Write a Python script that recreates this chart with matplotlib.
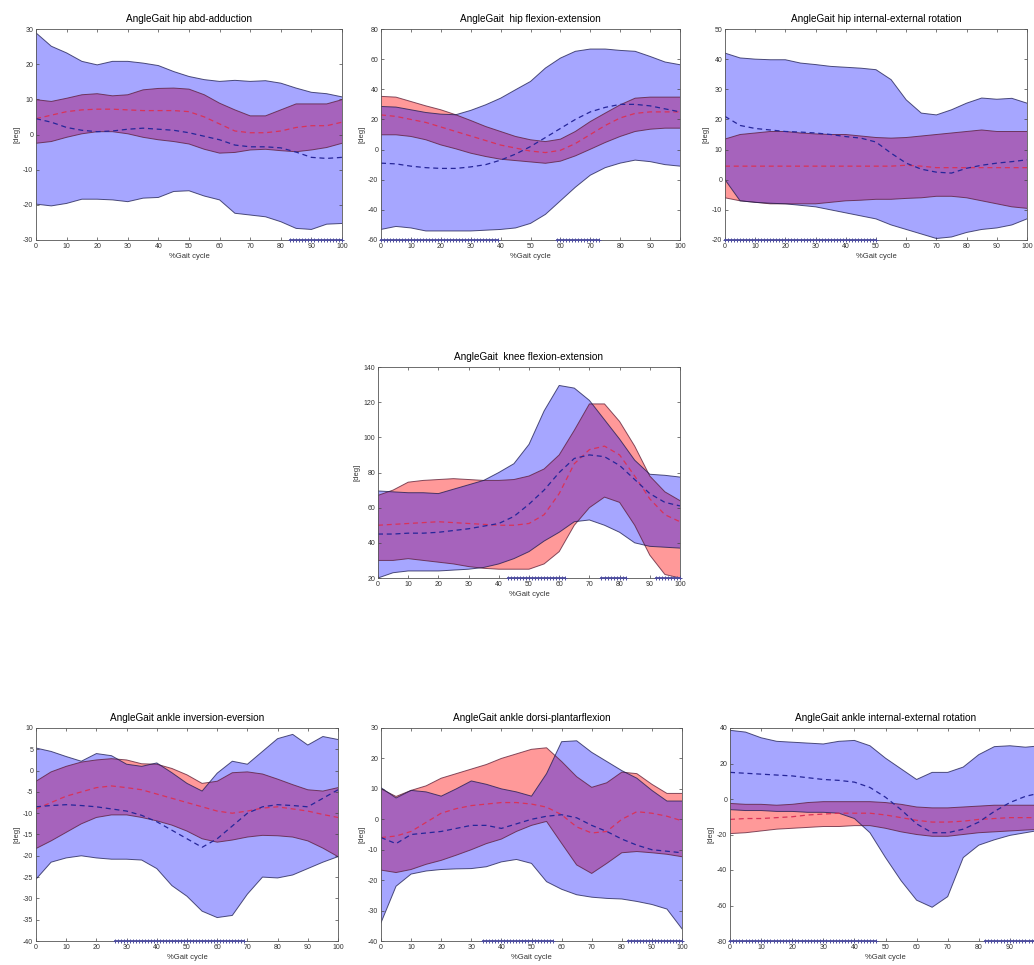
import numpy as np
import matplotlib
matplotlib.use("Agg")
import matplotlib.pyplot as plt

plt.rcParams['font.family'] = ['Liberation Sans', 'DejaVu Sans']
plt.rcParams['axes.unicode_minus'] = False

# % gait cycle sample positions
pct = [0, 5, 10, 15, 20, 25, 30, 35, 40, 45, 50, 55, 60, 65, 70, 75, 80, 85, 90, 95, 100]

# ---------------- hip abd-adduction ----------------
hab_red_mean = [4.5, 5.5, 6.5, 7.0, 7.2, 7.2, 7.0, 6.8, 6.8, 6.8, 6.5, 5.0, 3.0, 1.0, 0.5, 0.5, 1.0, 2.0, 2.5, 2.5, 3.5]
hab_red_up = [9.9, 9.4, 10.3, 11.3, 11.6, 11.0, 11.3, 12.7, 13.1, 13.2, 12.9, 11.3, 8.9, 7.0, 5.3, 5.3, 7.0, 8.7, 8.7, 8.7, 9.9]
hab_red_lo = [-2.5, -2.0, -0.8, 0.2, 0.8, 0.8, 0.2, -0.8, -1.5, -2.0, -2.7, -4.2, -5.3, -5.1, -4.4, -4.2, -4.6, -4.9, -4.4, -3.7, -2.5]
hab_blue_mean = [4.5, 3.5, 2.0, 1.2, 0.8, 1.0, 1.5, 1.8, 1.5, 1.2, 0.5, -0.5, -1.5, -3.0, -3.5, -3.5, -3.8, -5.0, -6.5, -6.8, -6.5]
hab_blue_up = [28.9, 25.1, 23.2, 20.8, 19.8, 20.8, 20.8, 20.3, 19.6, 17.9, 16.5, 15.6, 15.1, 15.4, 15.1, 15.3, 14.6, 13.2, 12.0, 11.6, 10.7]
hab_blue_lo = [-19.8, -20.3, -19.6, -18.4, -18.4, -18.6, -19.1, -18.1, -17.9, -16.2, -16.0, -17.5, -18.6, -22.4, -22.9, -23.4, -24.8, -26.7, -27.0, -25.5, -25.3]
hab_sig = [(83, 100)]

# ---------------- hip flexion-extension ----------------
hfe_red_mean = [23, 22, 20, 18, 15, 12, 9, 6, 3, 1, -1, -2, -0.5, 4, 10, 16, 21, 24, 25, 25, 25]
hfe_red_up = [35.3, 34.8, 31.9, 29.0, 26.4, 23.1, 19.3, 15.3, 12.0, 8.7, 6.5, 5.3, 6.9, 12.0, 18.6, 24.2, 29.7, 34.1, 34.8, 34.8, 34.8]
hfe_red_lo = [9.8, 9.8, 8.7, 6.5, 3.1, 0.5, -2.4, -4.6, -6.4, -7.3, -8.2, -9.1, -7.7, -4.2, 0.2, 4.7, 8.7, 12.0, 13.5, 14.2, 14.2]
hfe_blue_mean = [-9, -9.5, -11, -12, -12.5, -12.5, -11.5, -10, -7, -3, 2, 8, 14, 20, 25, 28, 30, 30, 29, 27, 25]
hfe_blue_up = [28.6, 28.2, 26.4, 24.6, 23.5, 23.1, 26.0, 29.7, 34.1, 39.7, 45.2, 54.1, 60.7, 65.2, 66.7, 66.7, 65.8, 65.2, 61.8, 58.1, 56.3]
hfe_blue_lo = [-53, -51, -52, -54, -54, -54, -54, -53.5, -53, -52, -49, -43, -34, -25, -17, -12, -9, -7, -8, -10, -11]
hfe_sig = [(0, 39), (59, 73)]

# ---------------- hip internal-external rotation ----------------
hie_red_mean = [4.5, 4.5, 4.5, 4.5, 4.5, 4.5, 4.5, 4.5, 4.5, 4.5, 4.5, 4.5, 4.8, 4.5, 4.0, 4.0, 4.0, 4.0, 4.0, 4.0, 4.0]
hie_red_up = [13.5, 15.0, 15.5, 16.0, 16.0, 15.5, 15.2, 15.0, 15.0, 14.5, 14.0, 13.8, 14.0, 14.5, 15.0, 15.5, 16.0, 16.5, 16.0, 16.0, 16.0]
hie_red_lo = [-6.0, -7.0, -7.5, -8.0, -8.0, -8.0, -8.0, -7.5, -7.0, -6.8, -6.5, -6.5, -6.2, -6.0, -5.5, -5.5, -6.0, -7.0, -8.0, -9.0, -9.5]
hie_blue_mean = [21, 18, 17, 16.5, 16, 15.8, 15.5, 15, 14.3, 13.8, 12.5, 8.8, 5.5, 3.5, 2.5, 2.2, 3.8, 4.8, 5.5, 6.0, 6.6]
hie_blue_up = [42.0, 40.4, 40.0, 39.8, 39.8, 38.7, 38.2, 37.6, 37.3, 37.0, 36.5, 33.2, 26.5, 22.1, 21.5, 23.2, 25.4, 27.1, 26.7, 27.0, 25.4]
hie_blue_lo = [0.0, -7.0, -7.5, -7.8, -8.0, -8.5, -9.0, -10.0, -11.0, -12.0, -13.0, -15.0, -16.5, -18.0, -19.5, -19.0, -17.5, -16.5, -16.0, -15.0, -13.0]
hie_sig = [(0, 50)]

# ---------------- knee flexion-extension ----------------
kfe_red_mean = [50, 50.5, 51, 51.5, 52, 51.5, 51, 50.5, 50, 50, 51, 56, 68, 85, 93, 95, 90, 78, 65, 56, 52]
kfe_red_up = [67, 70, 74.5, 75.5, 76, 76.5, 76, 75.5, 75.5, 76, 78, 82, 90, 104, 119, 119, 109, 95, 78, 69, 64]
kfe_red_lo = [30, 30, 31, 30, 29, 28, 26.5, 25.5, 25, 25, 25, 28, 35, 50, 60, 66, 63, 50, 33, 22, 20]
kfe_blue_mean = [45, 45, 45.5, 45.5, 46, 47, 48, 49.5, 51, 55, 62, 70, 80, 88, 90, 89, 84, 76, 68, 63, 61]
kfe_blue_up = [69.5, 69, 68.5, 68.5, 68, 70.5, 73, 75.5, 80, 85, 96, 115, 129.5, 128, 121, 110, 99, 87, 79, 78.4, 77.4]
kfe_blue_lo = [20, 23, 24, 24, 24, 24.5, 25, 26, 28, 31, 35, 41, 46, 52, 53, 50, 46, 40, 38, 37.5, 37]
kfe_sig = [(43, 62), (74, 82), (92, 100)]

# ---------------- ankle inversion-eversion ----------------
aie_red_mean = [-9, -7.5, -6, -5, -4, -3.6, -4, -4.5, -5.5, -6.5, -7.5, -8.5, -9.5, -10, -9.5, -8.8, -8.5, -9, -9.5, -10.3, -11]
aie_red_up = [-2.5, -0.3, 1.0, 2.0, 2.5, 2.8, 2.5, 1.6, 1.5, 0.5, -1.0, -3.0, -2.5, -0.5, -0.3, -0.8, -2.0, -3.3, -4.5, -4.8, -4.0]
aie_red_lo = [-18.3, -16.5, -14.5, -12.5, -11.0, -10.4, -10.4, -11.0, -11.8, -12.8, -14.2, -16.0, -16.8, -16.3, -15.6, -15.2, -15.3, -15.6, -16.5, -18.2, -20.2]
aie_blue_mean = [-8.5, -8.2, -8.0, -8.2, -8.5, -9.0, -9.5, -10.5, -12.0, -14.0, -16.0, -18.0, -16.0, -13.0, -10.0, -8.5, -8.0, -8.2, -8.5, -6.5, -4.5]
aie_blue_up = [5.3, 4.5, 3.3, 2.2, 4.0, 3.5, 1.5, 1.0, 1.8, -0.5, -3.0, -4.8, -0.6, 2.2, 1.5, 4.5, 7.5, 8.5, 6.0, 8.0, 7.3]
aie_blue_lo = [-25.5, -21.5, -20.5, -20.0, -20.5, -20.8, -20.8, -21.0, -23.0, -27.0, -29.5, -33.0, -34.5, -34.0, -29.0, -25.0, -25.2, -24.5, -23.0, -21.5, -20.2]
aie_sig = [(26, 69)]

# ---------------- ankle dorsi-plantarflexion ----------------
adp_red_mean = [-6, -5.5, -4, -1, 2, 3.5, 4.5, 5, 5.5, 5.5, 5, 4, 1.5, -2.5, -4.5, -4, 0, 2.5, 2, 1, -0.5]
adp_red_up = [10, 7.5, 9.5, 11, 13.5, 15, 16.5, 18, 20, 21.5, 23, 23.5, 19, 14, 10.5, 12, 15.5, 15, 11.5, 8.5, 8.5]
adp_red_lo = [-16.7, -17.5, -16.5, -14.8, -13.5, -11.8, -10, -8, -6.5, -4, -2, -0.7, -7.9, -15, -17.8, -14.5, -11, -10.6, -11, -11.5, -12.3]
adp_blue_mean = [-6, -8, -5, -4.5, -4, -3, -2, -2, -3, -1.5, 0, 1, 1.5, 0.5, -2, -4, -6.5, -8.5, -10, -10.5, -11]
adp_blue_up = [10.4, 7.0, 9.5, 9.0, 7.6, 10, 12.6, 11.5, 10.0, 9.0, 7.6, 15, 25.5, 25.8, 22, 19, 16, 13.5, 9.5, 6, 6]
adp_blue_lo = [-34, -22, -18, -17, -16.5, -16.3, -16.2, -15.6, -14, -13.2, -14.5, -20.5, -23, -24.8, -25.6, -26, -26.2, -27, -28, -29.5, -36]
adp_sig = [(34, 57), (82, 100)]

# ---------------- ankle internal-external rotation ----------------
aer_red_mean = [-11.5, -11, -11, -10.5, -10, -9, -8.5, -8, -8, -8, -9, -10.5, -12, -13, -13, -12.5, -11.5, -11, -10.5, -10.5, -10.5]
aer_red_up = [-2.5, -3, -3, -3.5, -3, -2, -1.5, -1.5, -1.5, -1.5, -2, -3, -4.5, -5, -5, -4.5, -4, -3.5, -3.5, -3.5, -3.5]
aer_red_lo = [-19.5, -19, -18, -17, -16.5, -16, -15.5, -15.5, -15, -15, -16.5, -18.5, -20, -21, -21, -20, -19, -18.5, -18, -17.5, -17]
aer_blue_mean = [15, 14.5, 14, 13.5, 13, 12, 11, 10.5, 9.5, 6.5, 1, -6, -14, -19, -19, -17, -13, -7, -2, 1.5, 3.5]
aer_blue_up = [38.7, 37.7, 34.5, 32.5, 32, 31.5, 31, 32.5, 33, 30, 23, 17, 11, 15, 15, 18, 25, 29.5, 30, 29.2, 30]
aer_blue_lo = [-6, -6.5, -6.5, -7, -7, -7.5, -7.5, -8, -11, -19, -33, -46, -57, -61, -55, -33, -26, -23, -20.5, -19, -17.5]
aer_sig = [(0, 47), (82, 100)]

# ---------------- layout & style ----------------
W, H = 1034, 965
fig = plt.figure(figsize=(W / 100, H / 100), dpi=100)


def px_axes(x0, x1, y0, y1):
    return fig.add_axes([x0 / W, 1 - y1 / H, (x1 - x0) / W, (y1 - y0) / H])


RED = (1.0, 0.0, 0.0)
BLUE = (0.0, 0.0, 1.0)
EDGE = (0.1, 0.1, 0.3)


def panel(ax, title, ylim, yticks, rm, ru, rl, bm, bu, bl, sig):
    ax.fill_between(pct, rl, ru, facecolor=RED, alpha=0.40, linewidth=0)
    ax.fill_between(pct, bl, bu, facecolor=BLUE, alpha=0.35, linewidth=0)
    for arr, c in ((ru, (0.35, 0.1, 0.2)), (rl, (0.35, 0.1, 0.2)), (bu, EDGE), (bl, EDGE)):
        ax.plot(pct, arr, color=c, lw=0.7, alpha=0.75)
    ax.plot(pct, rm, color=(0.85, 0.2, 0.35), lw=0.9, ls=(0, (4, 3)))
    ax.plot(pct, bm, color=(0.15, 0.15, 0.6), lw=0.9, ls=(0, (4, 3)))
    for s0, s1 in sig:
        xs = np.arange(s0, s1 + 1)
        ax.plot(xs, np.full(len(xs), ylim[0]), ls='-', lw=1.3, marker='+', ms=3.5,
                mew=0.7, color=(0.3, 0.3, 0.62), clip_on=False, zorder=5)
    ax.set_xlim(0, 100)
    ax.set_ylim(*ylim)
    ax.set_xticks(range(0, 101, 10))
    ax.set_yticks(yticks)
    ax.tick_params(direction='in', top=True, right=True, labelsize=5, length=2.5,
                   width=0.5, color='#444444', labelcolor='#333333', pad=2)
    for sp in ax.spines.values():
        sp.set_linewidth(0.6)
        sp.set_color('#555555')
    ax.set_title(title, fontsize=7.2, pad=5)
    ax.set_xlabel('%Gait cycle', fontsize=5.5, labelpad=2, color='#333333')
    ax.set_ylabel('[deg]', fontsize=5.5, labelpad=2, color='#333333')


ax1 = px_axes(36, 342, 29, 240)
panel(ax1, 'AngleGait hip abd-adduction', (-30, 30), range(-30, 31, 10),
      hab_red_mean, hab_red_up, hab_red_lo, hab_blue_mean, hab_blue_up, hab_blue_lo, hab_sig)

ax2 = px_axes(381, 680, 29, 240)
panel(ax2, 'AngleGait  hip flexion-extension', (-60, 80), range(-60, 81, 20),
      hfe_red_mean, hfe_red_up, hfe_red_lo, hfe_blue_mean, hfe_blue_up, hfe_blue_lo, hfe_sig)

ax3 = px_axes(725, 1027, 29, 240)
panel(ax3, 'AngleGait hip internal-external rotation', (-20, 50), range(-20, 51, 10),
      hie_red_mean, hie_red_up, hie_red_lo, hie_blue_mean, hie_blue_up, hie_blue_lo, hie_sig)

ax4 = px_axes(378, 680, 367, 578)
panel(ax4, 'AngleGait  knee flexion-extension', (20, 140), range(20, 141, 20),
      kfe_red_mean, kfe_red_up, kfe_red_lo, kfe_blue_mean, kfe_blue_up, kfe_blue_lo, kfe_sig)

ax5 = px_axes(36, 338, 728, 941)
panel(ax5, 'AngleGait ankle inversion-eversion', (-40, 10), range(-40, 11, 5),
      aie_red_mean, aie_red_up, aie_red_lo, aie_blue_mean, aie_blue_up, aie_blue_lo, aie_sig)

ax6 = px_axes(381, 682, 728, 941)
panel(ax6, 'AngleGait ankle dorsi-plantarflexion', (-40, 30), range(-40, 31, 10),
      adp_red_mean, adp_red_up, adp_red_lo, adp_blue_mean, adp_blue_up, adp_blue_lo, adp_sig)

ax7 = px_axes(730, 1041, 728, 941)
panel(ax7, 'AngleGait ankle internal-external rotation', (-80, 40), range(-80, 41, 20),
      aer_red_mean, aer_red_up, aer_red_lo, aer_blue_mean, aer_blue_up, aer_blue_lo, aer_sig)

fig.savefig('out.png', dpi=100)
